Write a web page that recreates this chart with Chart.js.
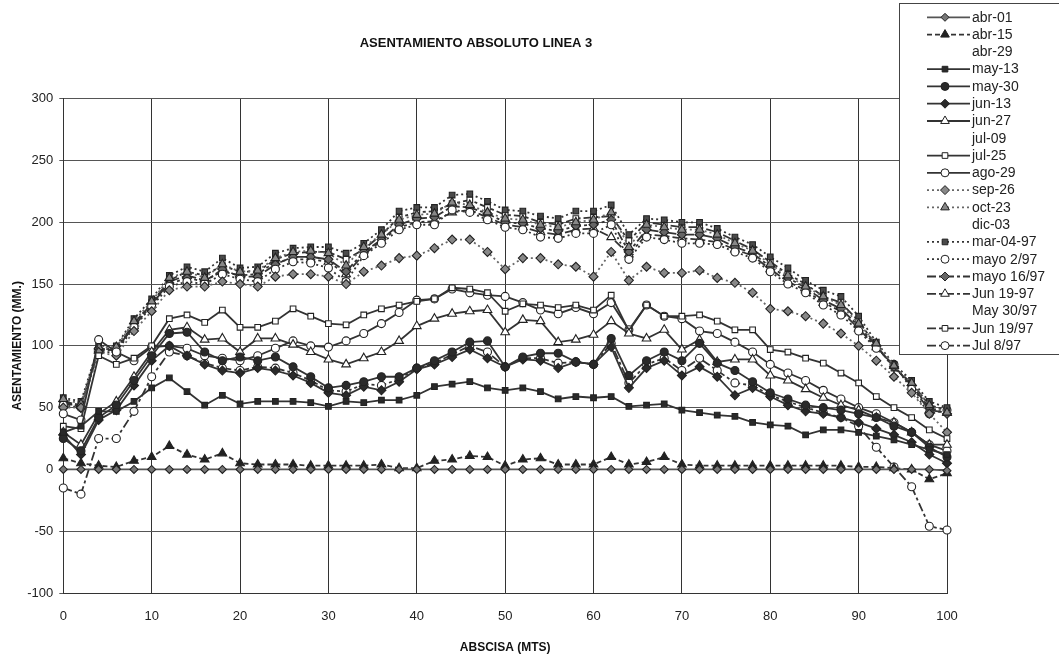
<!DOCTYPE html>
<html><head><meta charset="utf-8">
<script src="https://cdn.jsdelivr.net/npm/chart.js@4.4.0/dist/chart.umd.min.js"></script>
<style>html,body{margin:0;padding:0;background:#fff;}#wrap{width:1059px;height:663px;}</style>
</head><body><div id="wrap"><canvas id="c" width="1059" height="663"></canvas></div>
<script>
const chartTitle = 'ASENTAMIENTO ABSOLUTO LINEA 3';
const xTitle = 'ABSCISA (MTS)';
const yTitle = 'ASENTAMIENTO (MM.)';
const abscisa = [0,2,4,6,8,10,12,14,16,18,20,22,24,26,28,30,32,34,36,38,40,42,44,46,48,50,52,54,56,58,60,62,64,66,68,70,72,74,76,78,80,82,84,86,88,90,92,94,96,98,100];
const seriesNames = ['abr-01','abr-15','abr-29','may-13','may-30','jun-13','jun-27','jul-09','jul-25','ago-29','sep-26','oct-23','dic-03','mar-04-97','mayo 2/97','mayo 16/97','Jun 19-97','May 30/97','Jun 19/97','Jul 8/97'];

const abr01 = [0,0,0,0,0,0,0,0,0,0, 0,0,0,0,0,0,0,0,0,0, 0,0,0,0,0,0,0,0,0,0, 0,0,0,0,0,0,0,0,0,0, 0,0,0,0,0,0,0,0,0,0, -1];
const abr15 = [9,5,3,2,7,10,19,12,8,13, 5,4,4,4,3,3,3,3,4,1, 1,7,8,11,10,3,8,9,4,4, 4,10,4,6,10,4,3,3,3,3, 3,3,3,3,3,2,2,1,0,-8, -3];
const abr29 = [];
const may13 = [30,35,47,47,55,66,74,63,52,60, 53,55,55,55,54,51,55,54,56,56, 60,67,69,71,66,64,66,63,57,59, 58,59,51,52,53,48,46,44,43,38, 36,35,28,32,32,30,27,24,20,16, 12];
const may30 = [25,15,42,52,72,92,110,111,95,88, 91,88,91,83,75,66,68,71,75,75, 82,88,95,103,104,83,91,94,94,87, 85,106,76,88,95,88,102,86,80,71, 62,57,52,50,48,45,42,35,30,18, 10];
const jun13 = [28,12,40,48,68,88,100,92,85,80, 78,82,80,76,70,62,60,67,64,71, 81,85,91,97,90,83,89,88,82,87, 85,99,66,82,88,76,83,75,60,66, 59,52,47,45,42,38,33,28,22,12, 5];
const jun27 = [30,20,45,55,75,95,113,115,105,106, 95,106,106,101,95,89,85,90,95,104, 116,122,126,128,129,111,121,120,103,105, 109,120,110,106,113,97,105,87,89,89, 76,72,65,58,52,48,42,38,30,20, 20];
const jul09 = [];
const jul25 = [35,33,92,85,90,100,122,125,119,129, 115,115,120,130,124,118,117,125,130,133, 136,138,147,146,143,128,134,133,131,133, 129,141,112,133,124,124,125,120,113,113, 97,95,90,86,78,70,59,50,42,32, 25];
const ago29 = [45,40,105,95,88,99,100,98,92,90, 88,92,98,104,100,99,104,110,118,127, 137,138,146,143,141,140,135,129,126,131, 126,135,113,133,124,122,112,110,103,95, 85,78,72,64,57,50,45,38,30,20, 15];
const sep26 = [50,50,95,92,112,128,145,148,148,152, 150,148,156,158,158,156,150,160,165,171, 173,179,186,186,176,162,171,171,166,164, 156,176,153,164,159,159,161,155,151,143, 130,128,124,118,110,100,88,75,62,45, 30];
const oct23 = [57,53,99,99,120,136,155,160,155,166, 160,161,171,176,177,175,165,180,190,202, 206,207,216,214,208,203,202,198,196,200, 202,208,180,198,196,194,194,190,183,177, 166,157,148,140,133,118,102,84,70,52, 46];
const dic03 = [];
const mar0497 = [58,55,100,100,122,138,157,164,160,171, 163,164,175,179,180,180,175,183,194,209, 212,212,222,223,217,210,209,205,203,209, 209,214,190,203,202,200,200,195,188,182, 172,163,153,145,140,124,103,85,72,55, 50];
const mayo0297 = [52,50,95,95,115,132,148,152,150,158, 154,152,162,168,167,163,152,173,183,194, 198,198,210,208,202,196,194,188,187,191, 191,198,170,188,186,183,183,182,176,171, 160,150,143,133,125,112,98,85,65,45, 48];
const mayo1697 = [55,50,98,96,118,134,150,155,152,162, 156,156,166,172,172,170,160,176,186,198, 203,204,213,212,207,200,199,195,193,197, 198,202,176,194,192,190,190,187,180,175, 164,155,147,137,130,116,100,83,68,50, 45];
const jun1997a = [53,52,96,97,116,133,152,157,153,160, 157,158,168,170,170,168,158,174,185,196, 200,201,208,210,204,198,196,192,190,194, 195,188,174,190,189,187,186,184,178,173, 162,152,145,135,128,114,99,84,67,48, 46];
const may3097 = [];
const jun1997b = [55,52,97,98,118,135,153,160,157,165, 160,160,170,175,176,176,170,178,190,204, 208,209,215,218,212,206,205,200,198,203, 204,205,185,200,198,196,196,192,185,178, 168,158,150,140,135,120,100,82,70,52, 48];
const jul0897 = [-15,-20,25,25,47,75,95,92,86,82, 80,83,82,78,72,64,63,69,68,73, 82,86,93,100,95,83,90,90,86,87, 85,102,70,85,90,80,90,80,70,68, 60,55,50,46,42,35,18,2,-14,-46, -49];

const seriesValues = [abr01,abr15,abr29,may13,may30,jun13,jun27,jul09,jul25,ago29,sep26,oct23,dic03,mar0497,mayo0297,mayo1697,jun1997a,may3097,jun1997b,jul0897];

// styles: [line color, dash, point style, point fill, radius]
const DOT=[2,3], DASH=[5,3], DASHDOT=[9,3,3,3];
const styles = [
  ['#555',[], 'rectRot','#777',4],
  ['#333',DASH,'triangle','#222',5],
  ['#333',[], 'circle','#fff',3],
  ['#333',[], 'rect','#2a2a2a',4],
  ['#333',[], 'circle','#2a2a2a',4],
  ['#333',[], 'rectRot','#2a2a2a',4.5],
  ['#333',[], 'triangle','#fff',5],
  ['#333',[], 'circle','#fff',3],
  ['#333',[], 'rect','#fff',4],
  ['#333',[], 'circle','#fff',4],
  ['#666',DOT,'rectRot','#888',4.5],
  ['#666',DOT,'triangle','#888',5],
  ['#333',[], 'circle','#fff',3],
  ['#333',DOT,'rect','#4a4a4a',4],
  ['#333',DOT,'circle','#fff',4],
  ['#333',DASHDOT,'rectRot','#666',4.5],
  ['#333',DASHDOT,'triangle','#fff',5],
  ['#333',[], 'circle','#fff',3],
  ['#333',DASHDOT,'rect','#fff',4],
  ['#333',DASHDOT,'circle','#fff',4]
];

const datasets = seriesNames.map((name,i)=>{
  const s = styles[i];
  return {
    label: name,
    data: seriesValues[i].map((v,j)=>({x: abscisa[j], y: v})),
    borderColor: s[0], borderWidth: 1.8, borderDash: s[1],
    pointStyle: s[2], pointBackgroundColor: s[3], pointBorderColor: '#222',
    pointBorderWidth: 1.1, pointRadius: s[4], tension: 0, fill: false, clip: 8
  };
});

const overlay = {
  id: 'overlay',
  afterDraw(chart) {
    const ctx = chart.ctx;
    ctx.save();
    ctx.font = 'bold 13px "Liberation Sans", Arial, sans-serif';
    ctx.fillStyle = '#111'; ctx.textAlign = 'center'; ctx.textBaseline = 'middle';
    ctx.fillText(chartTitle, 476, 43);
    ctx.fillStyle = '#fff'; ctx.fillRect(899.5, 3.5, 170, 351);
    ctx.strokeStyle = '#444'; ctx.lineWidth = 1; ctx.strokeRect(899.5, 3.5, 170, 351);
    ctx.font = '14px "Liberation Sans", Arial, sans-serif';
    chart.data.datasets.forEach((ds,i)=>{
      const y = 17.3 + i*17.28;
      if (ds.data.length) {
        ctx.setLineDash(ds.borderDash || []);
        ctx.strokeStyle = ds.borderColor; ctx.lineWidth = ds.borderWidth;
        ctx.beginPath(); ctx.moveTo(927, y); ctx.lineTo(970, y); ctx.stroke();
        ctx.setLineDash([]);
        ctx.fillStyle = ds.pointBackgroundColor; ctx.strokeStyle = '#222'; ctx.lineWidth = 1;
        Chart.helpers.drawPoint(ctx, {pointStyle: ds.pointStyle, radius: ds.pointRadius, borderWidth: 1, rotation: 0}, 945, y);
      }
      ctx.fillStyle = '#222'; ctx.textAlign = 'left'; ctx.textBaseline = 'middle';
      ctx.fillText(ds.label, 972, y + 0.5);
    });
    ctx.restore();
  }
};

new Chart(document.getElementById('c'), {
  type: 'line',
  data: { datasets },
  options: {
    responsive: false, animation: false, devicePixelRatio: 1,
    layout: { padding: { top: 98.7, right: 112, left: 0, bottom: 0 } },
    plugins: { legend: { display: false }, title: { display: false }, tooltip: { enabled: false } },
    scales: {
      x: {
        type: 'linear', min: 0, max: 100,
        ticks: { stepSize: 10, padding: 16, color: '#222', font: { family: '"Liberation Sans", Arial, sans-serif', size: 13 } },
        grid: { color: '#333', lineWidth: 1, drawTicks: false },
        border: { color: '#333', width: 1 },
        title: { display: true, text: xTitle, color: '#111', font: { family: '"Liberation Sans", Arial, sans-serif', size: 12, weight: 'bold' }, padding: { top: 0, bottom: 8 } },
        afterFit(s) { s.height = 70; }
      },
      y: {
        min: -100, max: 300,
        ticks: { stepSize: 50, padding: 6, color: '#222', font: { family: '"Liberation Sans", Arial, sans-serif', size: 13 } },
        grid: { color: '#555', lineWidth: 1, tickLength: 4 },
        border: { color: '#333', width: 1 },
        title: { display: true, text: yTitle, color: '#111', font: { family: '"Liberation Sans", Arial, sans-serif', size: 12, weight: 'bold' }, padding: { top: 10, bottom: 0 } },
        afterFit(s) { s.width = 63.3; }
      }
    }
  },
  plugins: [overlay]
});
</script></body></html>
